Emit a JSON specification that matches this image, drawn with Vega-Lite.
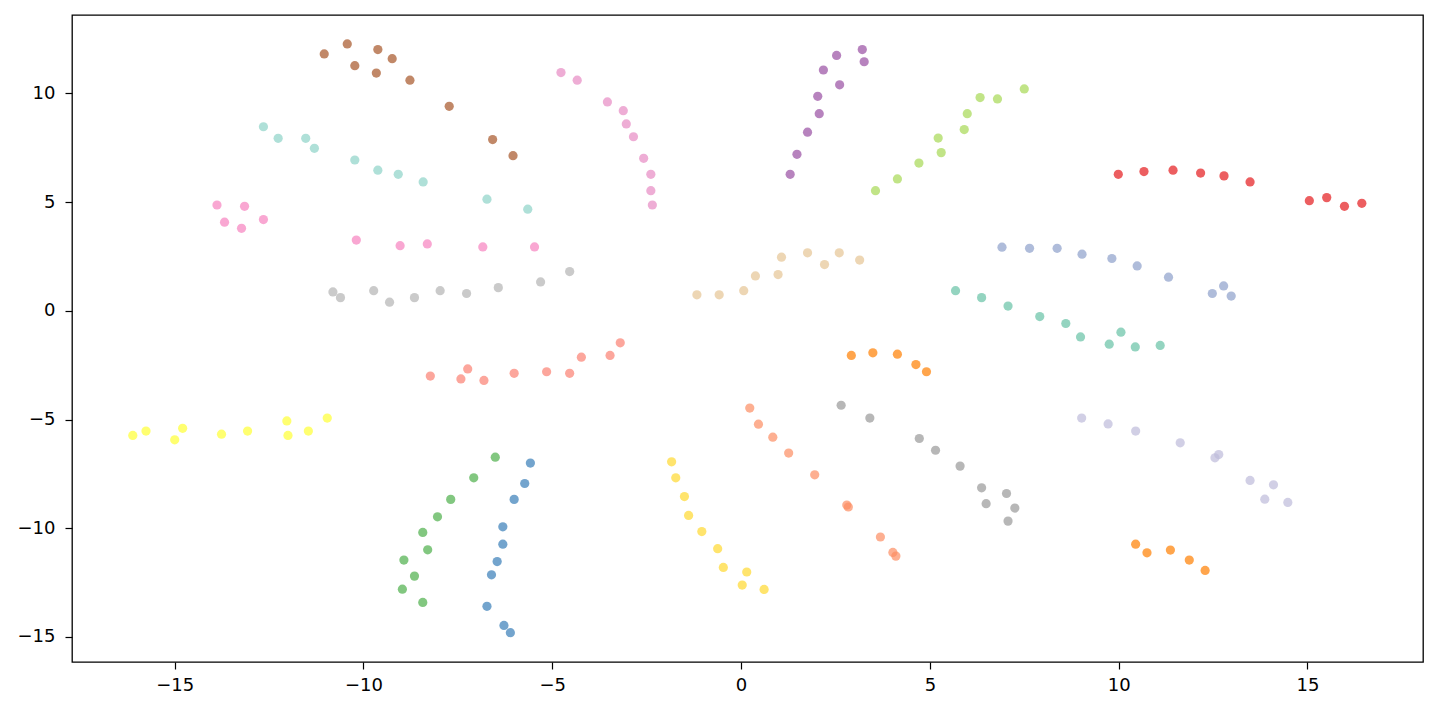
{
  "$schema": "https://vega.github.io/schema/vega-lite/v6.json",
  "width": 1351,
  "height": 647,
  "autosize": {"type": "none"},
  "padding": {"left": 72, "top": 15, "right": 12, "bottom": 49},
  "background": "white",
  "config": {
    "view": {"stroke": "black", "strokeWidth": 1.3},
    "axis": {
      "grid": false, "domain": false, "tickColor": "black", "tickSize": 7, "tickWidth": 1.2,
      "labelFont": "DejaVu Sans", "labelFontSize": 18, "labelColor": "black", "title": null
    }
  },
  "data": {"values": [
    {"g":"A","x":-11.04,"y":11.82},{"g":"A","x":-10.43,"y":12.28},{"g":"A","x":-9.62,"y":12.02},{"g":"A","x":-9.24,"y":11.60},{"g":"A","x":-10.23,"y":11.28},{"g":"A","x":-9.66,"y":10.94},{"g":"A","x":-8.77,"y":10.61},{"g":"A","x":-7.73,"y":9.41},{"g":"A","x":-6.58,"y":7.88},{"g":"A","x":-6.04,"y":7.14},
    {"g":"B","x":-12.65,"y":8.47},{"g":"B","x":-12.26,"y":7.94},{"g":"B","x":-11.53,"y":7.94},{"g":"B","x":-11.30,"y":7.48},{"g":"B","x":-10.23,"y":6.94},{"g":"B","x":-9.62,"y":6.47},{"g":"B","x":-9.08,"y":6.28},{"g":"B","x":-8.42,"y":5.93},{"g":"B","x":-6.73,"y":5.14},{"g":"B","x":-5.65,"y":4.68},
    {"g":"C","x":-13.88,"y":4.87},{"g":"C","x":-13.15,"y":4.81},{"g":"C","x":-13.68,"y":4.08},{"g":"C","x":-13.23,"y":3.80},{"g":"C","x":-12.65,"y":4.20},{"g":"C","x":-10.19,"y":3.26},{"g":"C","x":-9.03,"y":3.00},{"g":"C","x":-8.31,"y":3.08},{"g":"C","x":-6.84,"y":2.94},{"g":"C","x":-5.47,"y":2.94},
    {"g":"D","x":-10.81,"y":0.87},{"g":"D","x":-10.61,"y":0.61},{"g":"D","x":-9.73,"y":0.93},{"g":"D","x":-9.31,"y":0.40},{"g":"D","x":-8.65,"y":0.61},{"g":"D","x":-7.97,"y":0.93},{"g":"D","x":-7.27,"y":0.80},{"g":"D","x":-6.43,"y":1.07},{"g":"D","x":-5.31,"y":1.33},{"g":"D","x":-4.54,"y":1.81},
    {"g":"E","x":-4.77,"y":10.96},{"g":"E","x":-4.34,"y":10.61},{"g":"E","x":-3.54,"y":9.61},{"g":"E","x":-3.12,"y":9.21},{"g":"E","x":-3.04,"y":8.60},{"g":"E","x":-2.85,"y":8.01},{"g":"E","x":-2.58,"y":7.02},{"g":"E","x":-2.39,"y":6.28},{"g":"E","x":-2.39,"y":5.53},{"g":"E","x":-2.35,"y":4.87},
    {"g":"F","x":1.30,"y":6.28},{"g":"F","x":1.48,"y":7.20},{"g":"F","x":1.76,"y":8.22},{"g":"F","x":2.07,"y":9.07},{"g":"F","x":2.03,"y":9.87},{"g":"F","x":2.18,"y":11.08},{"g":"F","x":2.61,"y":10.40},{"g":"F","x":2.53,"y":11.75},{"g":"F","x":3.21,"y":12.02},{"g":"F","x":3.26,"y":11.46},
    {"g":"G","x":3.56,"y":5.53},{"g":"G","x":4.14,"y":6.07},{"g":"G","x":4.71,"y":6.80},{"g":"G","x":5.30,"y":7.28},{"g":"G","x":5.22,"y":7.95},{"g":"G","x":5.91,"y":8.34},{"g":"G","x":5.99,"y":9.07},{"g":"G","x":6.33,"y":9.81},{"g":"G","x":6.79,"y":9.75},{"g":"G","x":7.50,"y":10.21},
    {"g":"H","x":9.99,"y":6.28},{"g":"H","x":10.67,"y":6.41},{"g":"H","x":11.44,"y":6.47},{"g":"H","x":12.17,"y":6.34},{"g":"H","x":12.79,"y":6.21},{"g":"H","x":13.48,"y":5.93},{"g":"H","x":15.05,"y":5.07},{"g":"H","x":15.51,"y":5.21},{"g":"H","x":15.98,"y":4.81},{"g":"H","x":16.44,"y":4.95},
    {"g":"I","x":6.91,"y":2.93},{"g":"I","x":7.64,"y":2.88},{"g":"I","x":8.37,"y":2.88},{"g":"I","x":9.03,"y":2.61},{"g":"I","x":9.82,"y":2.41},{"g":"I","x":10.49,"y":2.07},{"g":"I","x":11.32,"y":1.55},{"g":"I","x":12.48,"y":0.80},{"g":"I","x":12.78,"y":1.15},{"g":"I","x":12.98,"y":0.68},
    {"g":"J","x":5.68,"y":0.93},{"g":"J","x":6.37,"y":0.61},{"g":"J","x":7.07,"y":0.22},{"g":"J","x":7.91,"y":-0.26},{"g":"J","x":8.60,"y":-0.58},{"g":"J","x":8.99,"y":-1.20},{"g":"J","x":10.06,"y":-0.98},{"g":"J","x":9.75,"y":-1.53},{"g":"J","x":10.44,"y":-1.66},{"g":"J","x":11.10,"y":-1.59},
    {"g":"K","x":-1.17,"y":0.74},{"g":"K","x":-0.58,"y":0.74},{"g":"K","x":0.07,"y":0.93},{"g":"K","x":0.38,"y":1.61},{"g":"K","x":0.98,"y":1.67},{"g":"K","x":1.07,"y":2.47},{"g":"K","x":1.76,"y":2.67},{"g":"K","x":2.21,"y":2.13},{"g":"K","x":2.60,"y":2.67},{"g":"K","x":3.14,"y":2.34},
    {"g":"L","x":-8.23,"y":-3.00},{"g":"L","x":-7.42,"y":-3.13},{"g":"L","x":-7.24,"y":-2.67},{"g":"L","x":-6.81,"y":-3.20},{"g":"L","x":-6.01,"y":-2.87},{"g":"L","x":-5.15,"y":-2.80},{"g":"L","x":-4.54,"y":-2.87},{"g":"L","x":-4.23,"y":-2.13},{"g":"L","x":-3.47,"y":-2.05},{"g":"L","x":-3.20,"y":-1.47},
    {"g":"M","x":2.92,"y":-2.05},{"g":"M","x":3.49,"y":-1.93},{"g":"M","x":4.14,"y":-1.99},{"g":"M","x":4.63,"y":-2.47},{"g":"M","x":4.91,"y":-2.80},{"g":"M","x":10.45,"y":-10.73},{"g":"M","x":10.75,"y":-11.13},{"g":"M","x":11.37,"y":-11.00},{"g":"M","x":11.87,"y":-11.46},{"g":"M","x":12.29,"y":-11.94},
    {"g":"N","x":-16.11,"y":-5.73},{"g":"N","x":-15.76,"y":-5.53},{"g":"N","x":-15.00,"y":-5.93},{"g":"N","x":-14.79,"y":-5.40},{"g":"N","x":-13.76,"y":-5.67},{"g":"N","x":-13.07,"y":-5.53},{"g":"N","x":-12.03,"y":-5.06},{"g":"N","x":-12.00,"y":-5.73},{"g":"N","x":-11.46,"y":-5.53},{"g":"N","x":-10.96,"y":-4.93},
    {"g":"O","x":-6.51,"y":-6.73},{"g":"O","x":-7.08,"y":-7.68},{"g":"O","x":-7.69,"y":-8.67},{"g":"O","x":-8.04,"y":-9.47},{"g":"O","x":-8.43,"y":-10.19},{"g":"O","x":-8.30,"y":-10.99},{"g":"O","x":-8.93,"y":-11.46},{"g":"O","x":-8.65,"y":-12.20},{"g":"O","x":-8.97,"y":-12.80},{"g":"O","x":-8.43,"y":-13.41},
    {"g":"P","x":-5.58,"y":-7.00},{"g":"P","x":-5.73,"y":-7.94},{"g":"P","x":-6.01,"y":-8.67},{"g":"P","x":-6.31,"y":-9.93},{"g":"P","x":-6.31,"y":-10.73},{"g":"P","x":-6.46,"y":-11.53},{"g":"P","x":-6.61,"y":-12.14},{"g":"P","x":-6.73,"y":-13.59},{"g":"P","x":-6.28,"y":-14.47},{"g":"P","x":-6.11,"y":-14.80},
    {"g":"Q","x":-1.84,"y":-6.94},{"g":"Q","x":-1.73,"y":-7.68},{"g":"Q","x":-1.50,"y":-8.54},{"g":"Q","x":-1.39,"y":-9.41},{"g":"Q","x":-1.04,"y":-10.15},{"g":"Q","x":-0.62,"y":-10.94},{"g":"Q","x":-0.47,"y":-11.80},{"g":"Q","x":0.15,"y":-12.01},{"g":"Q","x":0.03,"y":-12.61},{"g":"Q","x":0.61,"y":-12.81},
    {"g":"R","x":0.23,"y":-4.47},{"g":"R","x":0.46,"y":-5.21},{"g":"R","x":0.84,"y":-5.81},{"g":"R","x":1.26,"y":-6.54},{"g":"R","x":1.95,"y":-7.54},{"g":"R","x":2.80,"y":-8.93},{"g":"R","x":2.84,"y":-9.02},{"g":"R","x":3.69,"y":-10.40},{"g":"R","x":4.02,"y":-11.11},{"g":"R","x":4.10,"y":-11.28},
    {"g":"S","x":2.65,"y":-4.34},{"g":"S","x":3.41,"y":-4.93},{"g":"S","x":4.72,"y":-5.87},{"g":"S","x":5.15,"y":-6.41},{"g":"S","x":5.80,"y":-7.14},{"g":"S","x":6.37,"y":-8.14},{"g":"S","x":6.49,"y":-8.87},{"g":"S","x":7.03,"y":-8.40},{"g":"S","x":7.25,"y":-9.07},{"g":"S","x":7.07,"y":-9.67},
    {"g":"T","x":9.02,"y":-4.93},{"g":"T","x":9.72,"y":-5.20},{"g":"T","x":10.45,"y":-5.53},{"g":"T","x":11.63,"y":-6.07},{"g":"T","x":12.65,"y":-6.61},{"g":"T","x":12.55,"y":-6.76},{"g":"T","x":13.48,"y":-7.80},{"g":"T","x":14.10,"y":-8.00},{"g":"T","x":13.87,"y":-8.66},{"g":"T","x":14.48,"y":-8.81}
  ]},
  "mark": {"type": "circle", "size": 85, "opacity": 0.7, "strokeWidth": 0},
  "encoding": {
    "x": {"field": "x", "type": "quantitative",
      "scale": {"domain": [-17.72, 18.06], "nice": false, "zero": false},
      "axis": {"values": [-15, -10, -5, 0, 5, 10, 15], "labelPadding": 7, "labelExpr": "replace(datum.label, '-', '−')"}},
    "y": {"field": "y", "type": "quantitative",
      "scale": {"domain": [-16.15, 13.61], "nice": false, "zero": false},
      "axis": {"values": [-15, -10, -5, 0, 5, 10], "labelPadding": 10, "labelExpr": "replace(datum.label, '-', '−')"}},
    "color": {"field": "g", "type": "nominal", "legend": null,
      "scale": {
        "domain": ["A","B","C","D","E","F","G","H","I","J","K","L","M","N","O","P","Q","R","S","T"],
        "range": ["#a65628","#8dd3c7","#f781bf","#b3b3b3","#e78ac3","#984ea3","#a6d854","#e41a1c","#8da0cb","#66c2a5","#e5c494","#fb8072","#ff7f00","#ffff33","#4daf4a","#377eb8","#ffd92f","#fc8d62","#999999","#bebada"]
      }}
  }
}
